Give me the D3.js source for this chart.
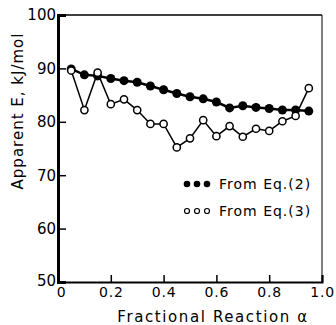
<!DOCTYPE html>
<html>
<head>
<meta charset="utf-8">
<script src="https://cdn.jsdelivr.net/npm/d3@7"></script>
<style>
  body { margin: 0; background: #fff; }
  text { font-family: "DejaVu Sans", sans-serif; fill: #000; }
</style>
</head>
<body>
<script>
var w = 336;
var h = 325;

var alpha = [0.05, 0.1, 0.15, 0.2, 0.25, 0.3, 0.35, 0.4, 0.45, 0.5,
             0.55, 0.6, 0.65, 0.7, 0.75, 0.8, 0.85, 0.9, 0.95];
var eq2 = [89.9, 88.8, 88.6, 88.1, 87.7, 87.4, 86.7, 86.0, 85.3, 84.7,
           84.3, 83.7, 82.6, 83.0, 82.7, 82.5, 82.2, 82.2, 82.0];
var eq3 = [89.6, 82.2, 89.2, 83.3, 84.2, 82.2, 79.6, 79.6, 75.2, 76.9,
           80.3, 77.3, 79.2, 77.2, 78.7, 78.3, 80.1, 81.1, 86.3];
var xTicks = [0, 0.2, 0.4, 0.6, 0.8, 1.0];
var xTickLabels = ["0", "0.2", "0.4", "0.6", "0.8", "1.0"];
var yTicks = [50, 60, 70, 80, 90, 100];
var legendLabels = ["From Eq.(2)", "From Eq.(3)"];

(function() {
    var pLeft = 58, pRight = 322, pTop = 15, pBottom = 282;

    var x = d3.scaleLinear().domain([0, 1]).range([pLeft, pRight]);
    var y = d3.scaleLinear().domain([50, 100]).range([pBottom, pTop]);

    var svg = d3.select("body").append("svg")
        .attr("width", w)
        .attr("height", h);

    // frame
    svg.append("line").attr("x1", pRight).attr("x2", pRight).attr("y1", pTop).attr("y2", pBottom)
        .attr("stroke", "#000").attr("stroke-width", 1);
    svg.append("line").attr("x1", pLeft).attr("x2", pRight).attr("y1", pTop).attr("y2", pTop)
        .attr("stroke", "#000").attr("stroke-width", 1.5);

    // axes with inward ticks
    var xAxis = svg.append("g")
        .attr("transform", "translate(0," + pBottom + ")")
        .call(d3.axisBottom(x).tickValues(xTicks).tickSize(-7).tickPadding(4)
            .tickFormat(function(d, i) { return xTickLabels[i]; }));
    xAxis.select(".domain").attr("stroke-width", 2);
    xAxis.selectAll(".tick line").attr("stroke-width", 1.5);
    xAxis.selectAll(".tick text").attr("font-size", 14).attr("dy", "0.8em")
        .attr("letter-spacing", 0.8)
        .attr("dx", function(d) { return d === 0 ? 3 : 0; });

    var yAxis = svg.append("g")
        .attr("transform", "translate(" + pLeft + ",0)")
        .call(d3.axisLeft(y).tickValues(yTicks).tickSize(-8).tickPadding(2));
    yAxis.select(".domain").attr("stroke-width", 3);
    yAxis.selectAll(".tick line").attr("stroke-width", 1.5);
    yAxis.selectAll(".tick text").attr("font-size", 15)
        .attr("dy", function(d) { return d === 50 ? "0.2em" : "0.32em"; });
    svg.selectAll(".domain").attr("stroke", "#000");

    // axis titles
    svg.append("text")
        .attr("x", 213).attr("y", 322)
        .attr("text-anchor", "middle")
        .attr("font-size", 15)
        .attr("letter-spacing", 1.6)
        .text("Fractional Reaction α");
    svg.append("text")
        .attr("transform", "translate(23,111) rotate(-90)")
        .attr("text-anchor", "middle")
        .attr("font-size", 15)
        .attr("letter-spacing", 1)
        .text("Apparent E, kJ/mol");

    // series
    var line = d3.line()
        .x(function(d, i) { return x(alpha[i]); })
        .y(function(d) { return y(d); });

    svg.append("path").datum(eq3)
        .attr("d", line)
        .attr("fill", "none").attr("stroke", "#000").attr("stroke-width", 1.5);
    svg.append("path").datum(eq2)
        .attr("d", line)
        .attr("fill", "none").attr("stroke", "#000").attr("stroke-width", 2.5);

    svg.selectAll("circle.eq2")
        .data(eq2)
        .enter()
        .append("circle")
        .attr("class", "eq2")
        .attr("cx", function(d, i) { return x(alpha[i]); })
        .attr("cy", function(d) { return y(d); })
        .attr("r", 4.5)
        .attr("fill", "#000");

    svg.selectAll("circle.eq3")
        .data(eq3)
        .enter()
        .append("circle")
        .attr("class", "eq3")
        .attr("cx", function(d, i) { return x(alpha[i]); })
        .attr("cy", function(d) { return y(d); })
        .attr("r", 3.6)
        .attr("fill", "#fff")
        .attr("stroke", "#000")
        .attr("stroke-width", 1.5);

    // legend
    var legend = svg.append("g");
    legendLabels.forEach(function(label, k) {
        var ly = 184 + k * 27;
        [187, 197, 207].forEach(function(lx) {
            legend.append("circle")
                .attr("cx", lx).attr("cy", ly)
                .attr("r", k === 0 ? 3.3 : 2.5)
                .attr("fill", k === 0 ? "#000" : "#fff")
                .attr("stroke", "#000")
                .attr("stroke-width", k === 0 ? 0 : 1.2);
        });
        legend.append("text")
            .attr("x", 219).attr("y", ly + 5)
            .attr("font-size", 14)
            .attr("letter-spacing", 1)
            .text(label);
    });
})();
</script>
</body>
</html>
